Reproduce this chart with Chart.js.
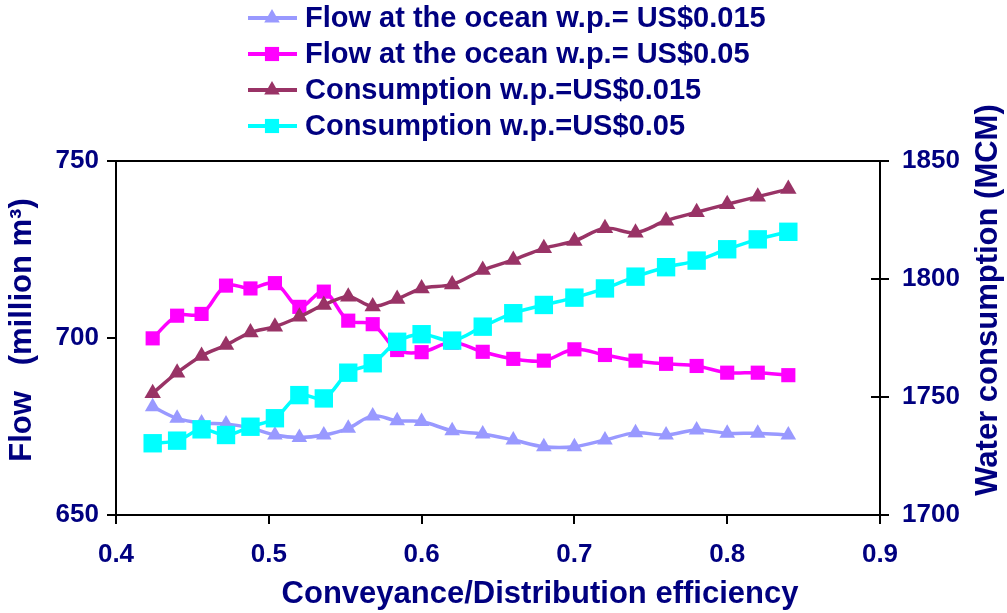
<!DOCTYPE html>
<html><head><meta charset="utf-8">
<script src="https://cdn.jsdelivr.net/npm/chart.js@4.4.0/dist/chart.umd.min.js"></script>
<style>html,body{margin:0;padding:0;background:#fff;overflow:hidden}#wrap{width:1007px;height:613px;position:relative}</style>
</head><body><div id="wrap"><canvas id="c" width="1007" height="613"></canvas></div>
<script>
const efficiency = [0.424,0.44,0.456,0.472,0.488,0.504,0.52,0.536,0.552,0.568,0.584,0.6,0.62,0.64,0.66,0.68,0.7,0.72,0.74,0.76,0.78,0.8,0.82,0.84];
const flowLow = [680.6,677.3,676.0,675.7,674.6,672.6,671.9,672.6,674.5,678.0,676.6,676.4,673.8,672.9,671.2,669.3,669.3,671.2,673.2,672.6,674.0,673.1,673.1,672.6];
const flowHigh = [699.9,706.3,706.8,714.8,714.0,715.5,708.8,713.1,704.9,703.9,696.6,696.0,698.7,696.1,694.1,693.6,696.8,695.2,693.6,692.7,692.1,690.2,690.2,689.5];
const consLow = [1751.6,1760.3,1767.4,1772.0,1777.3,1779.8,1784.0,1789.0,1792.5,1788.4,1791.5,1796.0,1797.7,1803.8,1808.1,1813.0,1816.1,1821.5,1819.6,1824.7,1828.3,1831.7,1834.9,1838.1];
const consHigh = [1730.4,1731.5,1736.3,1733.9,1737.4,1741.0,1750.8,1749.4,1760.3,1764.3,1773.4,1776.6,1773.9,1779.8,1785.5,1789.0,1792.1,1796.0,1801.0,1805.0,1807.8,1812.6,1816.8,1820.0];
const seriesLabels = ['Flow at the ocean w.p.= US$0.015','Flow at the ocean w.p.= US$0.05','Consumption w.p.=US$0.015','Consumption w.p.=US$0.05'];
const xTitle = 'Conveyance/Distribution efficiency';
const yLeftTitle = 'Flow   (million m\u00B3)';
const yRightTitle = 'Water consumption (MCM)';

const NAVY = '#000080';
const FONT = '"Liberation Sans", Arial, sans-serif';
const toPts = (ys) => ys.map((y, i) => ({x: efficiency[i], y}));

const styles = [
  {color:'#9999FF', style:'triangle', r:9, axis:'y', order:4, data:flowLow},
  {color:'#FF00FF', style:'rect', r:10, axis:'y', order:3, data:flowHigh},
  {color:'#993366', style:'triangle', r:9.5, axis:'y2', order:2, data:consLow},
  {color:'#00FFFF', style:'rect', r:13, axis:'y2', order:1, data:consHigh}
];

const datasets = styles.map((s, i) => ({
  label: seriesLabels[i],
  data: toPts(s.data),
  yAxisID: s.axis,
  order: s.order,
  borderColor: s.color,
  backgroundColor: s.color,
  pointBackgroundColor: s.color,
  pointBorderColor: s.color,
  pointBorderWidth: 0,
  pointStyle: s.style,
  pointRadius: s.r,
  borderWidth: 3.5,
  tension: 0.35,
  fill: false
}));

const decor = {
  id: 'decor',
  afterDraw(chart) {
    const ctx = chart.ctx, a = chart.chartArea;
    ctx.save();
    ctx.strokeStyle = '#000'; ctx.lineWidth = 2;
    ctx.beginPath(); ctx.moveTo(a.left, a.top); ctx.lineTo(a.right, a.top); ctx.stroke();
    const y2 = chart.scales.y2;
    y2.ticks.forEach(t => {
      const py = y2.getPixelForValue(t.value);
      ctx.beginPath(); ctx.moveTo(a.right - 9, py); ctx.lineTo(a.right, py); ctx.stroke();
    });
    // legend
    ctx.font = 'bold 29px ' + FONT;
    ctx.textBaseline = 'middle'; ctx.textAlign = 'left';
    styles.forEach((s, i) => {
      const y = 18 + 36 * i;
      ctx.strokeStyle = s.color; ctx.lineWidth = 4;
      ctx.beginPath(); ctx.moveTo(248, y); ctx.lineTo(297, y); ctx.stroke();
      ctx.fillStyle = s.color;
      Chart.helpers.drawPoint(ctx, {pointStyle: s.style, radius: s.style === 'rect' ? 10 : 9, rotation: 0, borderWidth: 0}, 272, y);
      ctx.fillStyle = NAVY;
      ctx.fillText(seriesLabels[i], 305, y + 1);
    });
    // titles
    ctx.font = 'bold 31px ' + FONT;
    ctx.fillStyle = NAVY; ctx.textAlign = 'center';
    ctx.fillText(xTitle, 540, 594);
    ctx.save(); ctx.translate(22, 330); ctx.rotate(-Math.PI / 2); ctx.fillText(yLeftTitle, 0, 0); ctx.restore();
    ctx.save(); ctx.translate(988, 300); ctx.rotate(-Math.PI / 2); ctx.fillText(yRightTitle, 0, 0); ctx.restore();
    ctx.restore();
  }
};

const tickFont = {family: FONT, size: 26, weight: 'bold'};
const gridCfg = {drawOnChartArea: false, drawTicks: true, tickLength: 9, color: '#000', lineWidth: 2};
const borderCfg = {display: true, color: '#000', width: 2};

new Chart(document.getElementById('c'), {
  type: 'line',
  data: {datasets},
  options: {
    responsive: false,
    animation: false,
    devicePixelRatio: 1,
    layout: {padding: {top: 161, left: 0, right: 0, bottom: 0}},
    plugins: {legend: {display: false}, tooltip: {enabled: false}},
    scales: {
      x: {
        type: 'linear', min: 0.4, max: 0.9,
        ticks: {stepSize: 0.1, callback: v => v.toFixed(1), font: tickFont, color: NAVY, padding: 15, maxRotation: 0},
        grid: gridCfg, border: borderCfg,
        afterFit: s => { s.height = 98; }
      },
      y: {
        position: 'left', min: 650, max: 750,
        ticks: {stepSize: 50, callback: v => String(v), font: tickFont, color: NAVY, padding: 8},
        grid: gridCfg, border: borderCfg,
        afterFit: s => { s.width = 116; }
      },
      y2: {
        position: 'right', min: 1700, max: 1850,
        ticks: {stepSize: 50, callback: v => String(v), font: tickFont, color: NAVY, padding: 13},
        grid: gridCfg, border: borderCfg,
        afterFit: s => { s.width = 127; }
      }
    }
  },
  plugins: [decor]
});
</script>
</body></html>
